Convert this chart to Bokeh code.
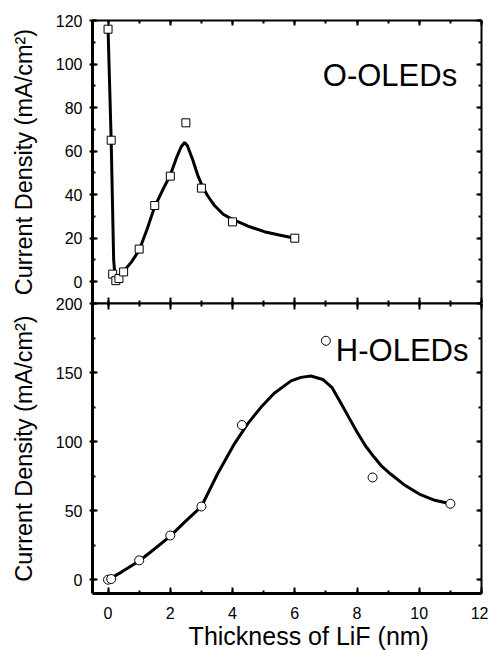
from bokeh.plotting import figure
from bokeh.models import Range1d, LinearAxis, SingleIntervalTicker, Label
from bokeh.layouts import column
from bokeh.embed import file_html
from bokeh.resources import INLINE

# ---- data ----
o_thick = [0, 0.1, 0.15, 0.25, 0.35, 0.5, 1.0, 1.5, 2.0, 2.5, 3.0, 4.0, 6.0]
o_curr = [116, 65, 3.5, 0.5, 1.5, 4.5, 15, 35, 48.5, 73, 43, 27.5, 20]

o_fit_x = [0, 0.1, 0.18, 0.22, 0.28, 0.35, 0.5, 0.75, 1.0, 1.25, 1.5, 1.75, 2.0, 2.2,
           2.35, 2.46, 2.55, 2.72, 2.88, 3.04, 3.2, 3.42, 3.7, 3.95, 4.5, 5.02, 5.5, 6.0]
o_fit_y = [116, 65, 10, 3, 1.5, 2.5, 4.8, 9, 14.5, 24, 34.5, 42, 49, 57,
           62, 64, 62.5, 56, 49, 43.5, 39.5, 35, 31, 29, 25.5, 23, 21.5, 20]

h_thick = [0, 0.1, 1, 2, 3, 4.3, 7, 8.5, 11]
h_curr = [0, 0.5, 14, 32, 53, 112, 173, 74, 55]

h_fit_x = [0, 0.43, 1, 1.5, 2, 2.46, 3, 3.52, 4.06, 4.49, 4.92, 5.34, 5.88, 6.2, 6.52,
           6.9, 7.2, 7.48, 7.75, 8.0, 8.27, 8.54, 8.8, 9.08, 9.5, 10, 10.5, 11]
h_fit_y = [0, 5.5, 13.5, 22.4, 31.5, 41.7, 53, 76.7, 98.4, 113, 125, 135, 144, 146.5, 147.5,
           145, 139, 128, 117, 107, 97, 89, 82, 76.5, 69, 62, 57.5, 55]

x_title = "Thickness of LiF (nm)"
y_title = "Current Density (mA/cm\u00b2)"
top_name = "O-OLEDs"
bottom_name = "H-OLEDs"

FONT = "Liberation Sans"
W = 488
OVERLAP = 12


def style(ax, tin, tout, mtin, mtout, labels=True, lw=2):
    ax.major_tick_in = tin
    ax.major_tick_out = tout
    ax.minor_tick_in = mtin
    ax.minor_tick_out = mtout
    ax.major_tick_line_width = 2
    ax.minor_tick_line_width = 2
    ax.major_tick_line_color = "black"
    ax.minor_tick_line_color = "black"
    ax.axis_line_width = lw
    ax.axis_line_color = "black"
    if labels:
        ax.major_label_text_font = FONT
        ax.major_label_text_font_size = "16px"
        ax.major_label_text_color = "black"
    else:
        ax.major_label_text_color = None
        ax.major_label_standoff = 0
    ax.axis_label_text_font = FONT
    ax.axis_label_text_font_style = "normal"
    ax.axis_label_text_color = "black"


xr = Range1d(-0.5, 12)
xt = lambda: SingleIntervalTicker(interval=2, num_minor_ticks=2)

# ---------- top panel ----------
top = figure(width=W, height=303, x_range=xr, y_range=Range1d(-10, 120),
             output_backend="svg", toolbar_location=None,
             x_axis_location=None, y_axis_location=None,
             min_border_left=92, min_border_right=7, min_border_top=20, min_border_bottom=0)
top.grid.visible = False
top.outline_line_color = None
top.background_fill_color = "white"
top.border_fill_color = "white"

yl = LinearAxis(ticker=SingleIntervalTicker(interval=20, num_minor_ticks=2),
                axis_label=y_title)
style(yl, 5, 3, 3, 0, labels=True, lw=3)
yl.major_label_standoff = 7
yl.axis_label_text_font_size = "23.5px"
yl.axis_label_standoff = 16
top.add_layout(yl, "left")

yr = LinearAxis(ticker=SingleIntervalTicker(interval=20, num_minor_ticks=2))
style(yr, 5, 0, 3, 0, labels=False, lw=2)
top.add_layout(yr, "right")

xa = LinearAxis(ticker=xt())
style(xa, 5, 0, 3, 0, labels=False, lw=2)
top.add_layout(xa, "above")

xb = LinearAxis(ticker=xt())
style(xb, 6, 0, 3, 0, labels=False, lw=2)
top.add_layout(xb, "below")

top.line(o_fit_x, o_fit_y, line_color="black", line_width=3)
top.scatter(o_thick, o_curr, marker="square", size=8, fill_color="white",
            line_color="black", line_width=1)
top.add_layout(Label(x=6.9, y=94.7, text=top_name, text_font=FONT, text_font_size="31px",
                     text_color="black", text_baseline="middle"))

# ---------- bottom panel ----------
bot = figure(width=W, height=323 + OVERLAP, x_range=xr, y_range=Range1d(-10, 200),
             output_backend="svg", toolbar_location=None,
             x_axis_location=None, y_axis_location=None,
             min_border_left=92, min_border_right=7, min_border_top=OVERLAP,
             min_border_bottom=33)
bot.margin = (-OVERLAP, 0, 0, 0)
bot.grid.visible = False
bot.outline_line_color = None
bot.background_fill_color = "white"
bot.border_fill_color = None

yl2 = LinearAxis(ticker=SingleIntervalTicker(interval=50, num_minor_ticks=2),
                 axis_label=y_title)
style(yl2, 5, 3, 3, 0, labels=True, lw=3)
yl2.major_label_standoff = 7
yl2.axis_label_text_font_size = "23.5px"
yl2.axis_label_standoff = 16
bot.add_layout(yl2, "left")

yr2 = LinearAxis(ticker=SingleIntervalTicker(interval=50, num_minor_ticks=2))
style(yr2, 5, 0, 3, 0, labels=False, lw=2)
bot.add_layout(yr2, "right")

xa2 = LinearAxis(ticker=xt())
style(xa2, 6, 0, 3, 0, labels=False, lw=2)
bot.add_layout(xa2, "above")

xb2 = LinearAxis(ticker=xt())
style(xb2, 6, 0, 3, 0, labels=True, lw=3)
xb2.major_label_standoff = 13
bot.add_layout(xb2, "below")

bot.line(h_fit_x, h_fit_y, line_color="black", line_width=3)
bot.scatter(h_thick, h_curr, marker="circle", size=9, fill_color="white",
            line_color="black", line_width=1)
bot.add_layout(Label(x=7.32, y=165.7, text=bottom_name, text_font=FONT, text_font_size="31px",
                     text_color="black", text_baseline="middle"))

# ---------- x-axis title strip ----------
TOV = 16
tfig = figure(width=W, height=24 + TOV, x_range=xr, y_range=Range1d(0, 24 + TOV),
              output_backend="svg", toolbar_location=None,
              x_axis_location=None, y_axis_location=None,
              min_border_left=92, min_border_right=7, min_border_top=0, min_border_bottom=0)
tfig.margin = (-TOV, 0, 0, 0)
tfig.grid.visible = False
tfig.outline_line_color = None
tfig.background_fill_color = None
tfig.border_fill_color = None
tfig.add_layout(Label(x=6.45, y=15, text=x_title, text_font=FONT, text_font_size="25px",
                      text_color="black", text_align="center", text_baseline="middle"))

layout = column(top, bot, tfig, spacing=0)
open("out.html", "w").write(file_html(layout, INLINE))
